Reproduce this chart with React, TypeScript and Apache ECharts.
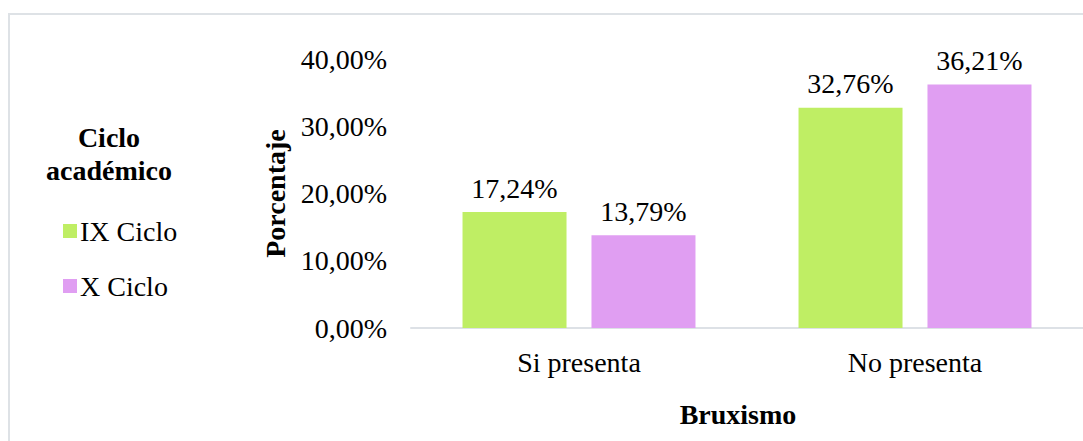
import React, { useEffect, useRef } from "react";
import * as echarts from "echarts";

const categories = ["Si presenta", "No presenta"];
const seriesNames = ["IX Ciclo", "X Ciclo"];
const ixCiclo = [17.24, 32.76];
const xCiclo = [13.79, 36.21];
const yTicks = [0, 10, 20, 30, 40];
const legendTitle = "Ciclo\nacadémico";
const yAxisTitle = "Porcentaje";
const xAxisTitle = "Bruxismo";

const FONT = "Liberation Serif";
const fmt = (v: number) => v.toFixed(2).replace(".", ",") + "%";

export default function App() {
  const ref = useRef<HTMLDivElement>(null);
  useEffect(() => {
    const chart = echarts.init(ref.current!, null, { renderer: "svg" });
    const labelStyle = {
      show: true,
      position: "top" as const,
      distance: 10,
      fontFamily: FONT,
      fontSize: 28,
      color: "#000",
      formatter: (p: any) => fmt(p.value),
    };
    chart.setOption({
      animation: false,
      backgroundColor: "#fff",
      textStyle: { fontFamily: FONT },
      grid: { left: 411, top: 59, width: 676, height: 269, containLabel: false },
      legend: {
        orient: "vertical",
        left: 58,
        top: 212,
        itemWidth: 14,
        itemHeight: 14,
        itemGap: 27,
        icon: "rect",
        data: seriesNames,
        textStyle: { fontFamily: FONT, fontSize: 28, color: "#000", padding: [0, 0, 0, -2] },
      },
      xAxis: {
        type: "category",
        data: categories,
        axisLine: { lineStyle: { color: "#DDE1E6", width: 2 } },
        axisTick: { show: false },
        axisLabel: { fontFamily: FONT, fontSize: 28, color: "#000", margin: 20 },
      },
      yAxis: {
        type: "value",
        min: yTicks[0],
        max: yTicks[yTicks.length - 1],
        interval: 10,
        name: yAxisTitle,
        nameLocation: "middle",
        nameGap: 122,
        nameTextStyle: { fontFamily: FONT, fontSize: 28, fontWeight: "bold", color: "#000" },
        axisLine: { show: false },
        axisTick: { show: false },
        splitLine: { show: false },
        axisLabel: {
          fontFamily: FONT,
          fontSize: 28,
          color: "#000",
          margin: 24,
          formatter: (v: number) => fmt(v),
        },
      },
      graphic: [
        {
          type: "rect",
          shape: { x: 9, y: 14, width: 1200, height: 600 },
          style: { fill: "none", stroke: "#DEE2E6", lineWidth: 2 },
          silent: true,
        },
        {
          type: "text",
          x: 109,
          y: 121,
          style: {
            text: legendTitle,
            fontFamily: FONT,
            fontSize: 28,
            fontWeight: "bold",
            fill: "#000",
            align: "center",
            verticalAlign: "top",
            lineHeight: 33,
          },
        },
        {
          type: "text",
          x: 738,
          y: 400,
          style: {
            text: xAxisTitle,
            fontFamily: FONT,
            fontSize: 28,
            fontWeight: "bold",
            fill: "#000",
            align: "center",
            verticalAlign: "top",
          },
        },
      ],
      series: [
        {
          name: seriesNames[0],
          type: "bar",
          data: ixCiclo,
          barWidth: 104,
          barGap: "24%",
          itemStyle: { color: "#BFEE64" },
          label: labelStyle,
        },
        {
          name: seriesNames[1],
          type: "bar",
          data: xCiclo,
          barWidth: 104,
          itemStyle: { color: "#E09EF2" },
          label: labelStyle,
        },
      ],
    });
    return () => chart.dispose();
  }, []);
  return (
    <div
      ref={ref}
      style={{ position: "fixed", left: 0, top: 0, width: 1083, height: 441 }}
    />
  );
}
